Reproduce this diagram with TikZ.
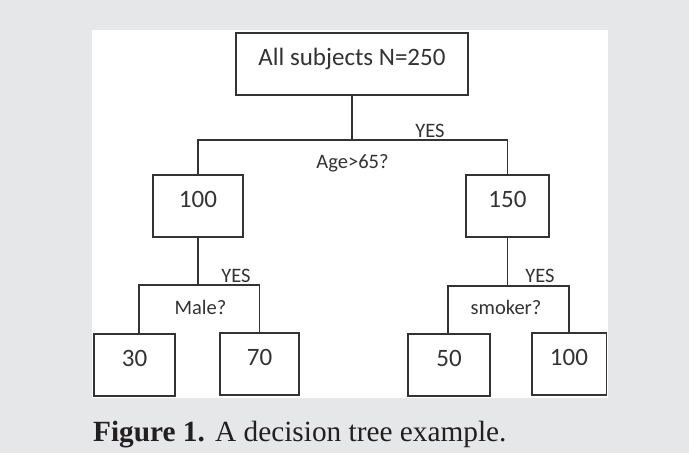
\documentclass[tikz,border=0pt]{standalone}
\usepackage{fontspec}
\setmainfont{Liberation Serif}
\newfontfamily\calib{Carlito}
\definecolor{bg}{HTML}{E6E7E8}
\definecolor{ink}{HTML}{333333}
\definecolor{capink}{HTML}{231F20}
\begin{document}
\begin{tikzpicture}[x=1pt,y=-1pt,
 treebox/.style={draw=ink, line width=1.5pt, inner sep=0pt, anchor=north, text height=33pt, text depth=29pt, font=\calib\fontsize{25}{25}\selectfont, text=ink},
 lbl/.style={inner sep=0pt, anchor=base, font=\calib\fontsize{20.5}{20.5}\selectfont, text=ink},
 conn/.style={draw=ink, line width=1.3pt}]
\fill[bg] (0,0) rectangle (689,453);
\fill[white] (92,30) rectangle (608,398);
\useasboundingbox (0,0) rectangle (689,453);
\node[treebox, minimum width=232pt] (root) at (352,32) {All subjects N=250};
\node[treebox, minimum width=90pt] (n100) at (198,174) {100};
\node[treebox, minimum width=83pt] (n150) at (507.5,174) {150};
\node[treebox, minimum width=81pt] (n30) at (134.5,333) {30};
\node[treebox, minimum width=79pt] (n70) at (259.5,332) {70};
\node[treebox, minimum width=82pt] (n50) at (449,333) {50};
\node[treebox, minimum width=74.5pt] (n100r) at (569,332) {100};
\coordinate (j1) at (351,140);
\coordinate (j2) at (201,285);
\coordinate (j3) at (505,286);
\draw[conn] (root.south) -- (root.south |- j1);
\draw[conn] (n100.north) |- (j1) -| (n150.north);
\draw[conn] (n100.south) -- (n100.south |- j2);
\draw[conn] ([xshift=4.5pt]n30.north) |- (j2) -| (n70.north);
\draw[conn] (n150.south) -- (n150.south |- j3);
\draw[conn] ([xshift=-1pt]n50.north) |- (j3) -| (n100r.north);
\node[lbl] (yes1) at (430,137) {YES};
\node[lbl] (q1) at (352.5,168) {Age>65?};
\node[lbl] (yes2) at (236,282) {YES};
\node[lbl] (yes3) at (540,282) {YES};
\node[lbl] (q2) at (200.5,314) {Male?};
\node[lbl] (q3) at (506,314) {smoker?};
\node[anchor=base west, inner sep=0pt, font=\fontsize{29.3}{29.3}\selectfont, text=capink] (cap) at (93,441) {\textbf{Figure 1.}\hspace{0.35em}A decision tree example.};
\end{tikzpicture}
\end{document}
